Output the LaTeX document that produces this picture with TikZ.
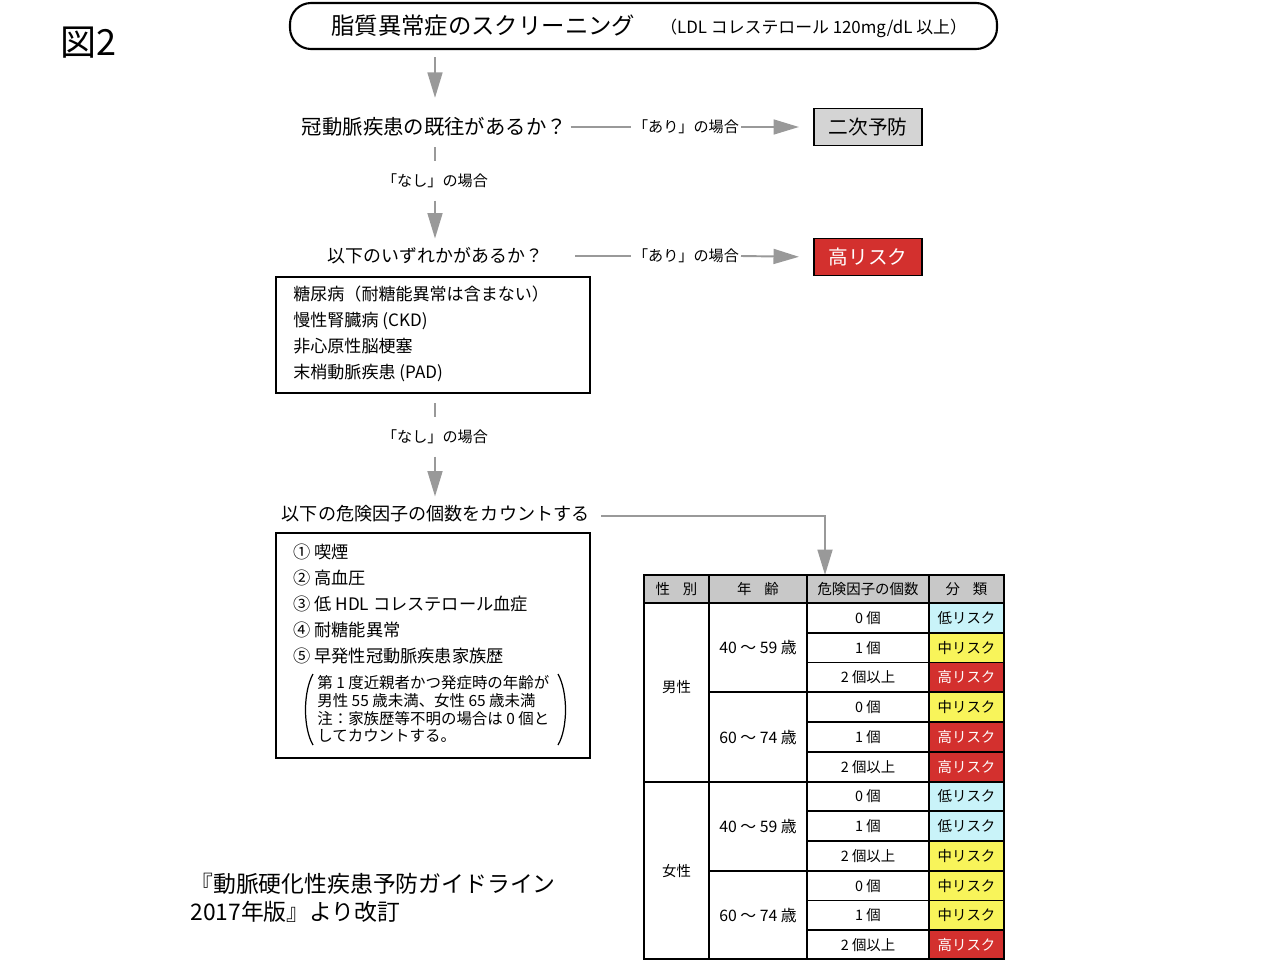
\documentclass[tikz,border=0pt]{standalone}
\usepackage{fontspec}
\setmainfont{Noto Sans CJK JP}
\usepackage{tikz}
\usetikzlibrary{arrows.meta}

\newcommand\fsz[2]{\fontsize{#1pt}{#2pt}\selectfont}
\definecolor{arrowgray}{HTML}{999999}
\definecolor{headgray}{HTML}{C8C8C8}
\definecolor{boxgray}{HTML}{D4D4D4}
\definecolor{lowrisk}{HTML}{C9F3F9}
\definecolor{midrisk}{HTML}{F8F45A}
\definecolor{highrisk}{HTML}{D3302E}

\tikzset{
  flow/.style={draw=arrowgray,line width=1.1pt},
  flowarrow/.style={flow,-{Triangle[length=14.5pt,width=8.5pt]},arrowgray},
  case/.style={inner xsep=1pt,inner ysep=7pt,font=\fsz{8.6}{10}},
  question/.style={inner xsep=2pt,inner ysep=5pt,anchor=west},
  result/.style={draw,line width=1.1pt,minimum width=108*0.02cm,minimum height=37*0.02cm,font=\fsz{11.2}{13}},
  listbox/.style={draw,line width=1.2pt},
  cell/.style={font=\fsz{8.2}{10},inner sep=0pt},
}

\begin{document}
\begin{tikzpicture}[x=0.02cm,y=-0.02cm]
\useasboundingbox (0,0) rectangle (1280,960);

\node[anchor=west,inner sep=0pt,font=\fsz{20.5}{24}] (fig) at (60,43) {図2};

% screening box
\draw[line width=1.2pt,rounded corners=12] (290,3) rectangle (997,49);
\node[anchor=west,inner sep=0pt,font=\fsz{13.3}{16}] (title) at (331,26) {脂質異常症のスクリーニング};
\node[anchor=west,inner sep=0pt,font=\fsz{9.6}{11}] (ldl) at (660,28) {（LDL コレステロール 120mg/dL 以上）};
\coordinate (topbox) at (435,57);

% first question
\node[question,font=\fsz{11.6}{14}] (q1) at (298,127) {冠動脈疾患の既往があるか？};
\node[case] (yes1) at (686,127) {「あり」の場合};
\node[result,fill=boxgray] (second) at (868,127) {二次予防};
\draw[flowarrow,shorten >=6pt] (topbox) -- (q1.north -| topbox);
\draw[flow] (q1.east) -- (yes1.west);
\draw[flowarrow,shorten >=8pt] (yes1.east) -- (second.west);

\node[case] (no1) at (435,181) {「なし」の場合};
\draw[flow] (435,147) -- (no1.north);

% second question
\node[question,font=\fsz{10.2}{12}] (q2) at (324,256) {以下のいずれかがあるか？};
\coordinate (s2) at (575,256);
\node[case] (yes2) at (686,256) {「あり」の場合};
\node[result,fill=highrisk,text=white] (high) at (868,257) {高リスク};
\draw[flowarrow] (no1.south) -- (q2.north -| no1);
\draw[flow] (s2) -- (yes2.west);
\draw[flowarrow,shorten >=8pt] (yes2.east) -- (high.west);

\draw[listbox] (276,277) rectangle (590,393);
\node[anchor=west,align=left,inner sep=0pt,font=\fsz{9.7}{14.7}] (cond) at (293,334) {%
  糖尿病（耐糖能異常は含まない）\\
  慢性腎臓病 (CKD)\\
  非心原性脳梗塞\\
  末梢動脈疾患 (PAD)};

\node[case] (no2) at (435,437) {「なし」の場合};
\draw[flow] (435,403) -- (no2.north);

% risk factors
\node[question,font=\fsz{10.3}{12}] (q3) at (278,514) {以下の危険因子の個数をカウントする};
\draw[flowarrow] (q3.east) ++(8,2) -| (825,575);
\draw[flowarrow] (no2.south) -- (q3.north -| no2);

\draw[listbox] (276,533) rectangle (590,758);
\node[anchor=west,align=left,inner sep=0pt,font=\fsz{9.8}{14.7}] (factors) at (293,604) {%
  ① 喫煙\\
  ② 高血圧\\
  ③ 低 HDL コレステロール血症\\
  ④ 耐糖能異常\\
  ⑤ 早発性冠動脈疾患家族歴};
\node[anchor=west,align=left,inner sep=0pt,font=\fsz{8.8}{10.2}] (note) at (317,709) {%
  第 1 度近親者かつ発症時の年齢が\\
  男性 55 歳未満、女性 65 歳未満\\
  注：家族歴等不明の場合は 0 個と\\
  してカウントする。};
\draw[line width=0.7pt] (313,674) .. controls (303,692) and (303,728) .. (313,745);
\draw[line width=0.7pt] (558,674) .. controls (568,692) and (568,728) .. (558,745);

% table
\fill[headgray] (644,575) rectangle (1004,603);
\foreach \row/\cnt/\col/\txtcol/\lvl in {0/0 個/lowrisk/black/低,1/1 個/midrisk/black/中,2/2 個以上/highrisk/white/高,
                         3/0 個/midrisk/black/中,4/1 個/highrisk/white/高,5/2 個以上/highrisk/white/高,
                         6/0 個/lowrisk/black/低,7/1 個/lowrisk/black/低,8/2 個以上/midrisk/black/中,
                         9/0 個/midrisk/black/中,10/1 個/midrisk/black/中,11/2 個以上/highrisk/white/高}{
  \fill[\col] (929,603+\row*29.75) rectangle (1004,603+\row*29.75+29.75);
  \node[cell] (num\row) at (868,618+\row*29.75) {\cnt};
  \node[cell,text=\txtcol] (cls\row) at (966.5,618+\row*29.75) {\lvl リスク};
}
\foreach \row in {1,2,4,5,7,8,10,11}
  \draw[line width=0.9pt] (807,603+\row*29.75) -- (1004,603+\row*29.75);
\foreach \row in {3,9}
  \draw[line width=0.9pt] (709,603+\row*29.75) -- (1004,603+\row*29.75);
\draw[line width=0.9pt] (644,782) -- (1004,782);
\draw[line width=0.9pt] (644,603) -- (1004,603);
\foreach \xx in {709,807,929}
  \draw[line width=0.9pt] (\xx,575) -- (\xx,959);
\draw[line width=1.1pt] (644,575) rectangle (1004,959);

\node[cell] (hsex) at (676.5,589) {性\hspace{0.9em}別};
\node[cell] (hage) at (758,589) {年\hspace{0.9em}齢};
\node[cell] (hnum) at (868,589) {危険因子の個数};
\node[cell] (hcls) at (966.5,589) {分\hspace{0.9em}類};
\node[cell] (male) at (676.5,687) {男性};
\node[cell] (female) at (676.5,871) {女性};
\foreach \g/\a/\b in {0/40/59,1/60/74,2/40/59,3/60/74}
  \node[cell,font=\fsz{9}{11}] (age\g) at (758,648+\g*89.25) {\a\ ～ \b\ 歳};

% source
\node[anchor=west,align=left,inner sep=0pt,font=\fsz{13}{15.9}] (src) at (190,898) {%
  『動脈硬化性疾患予防ガイドライン\\
  2017年版』より改訂};
\end{tikzpicture}
\end{document}
